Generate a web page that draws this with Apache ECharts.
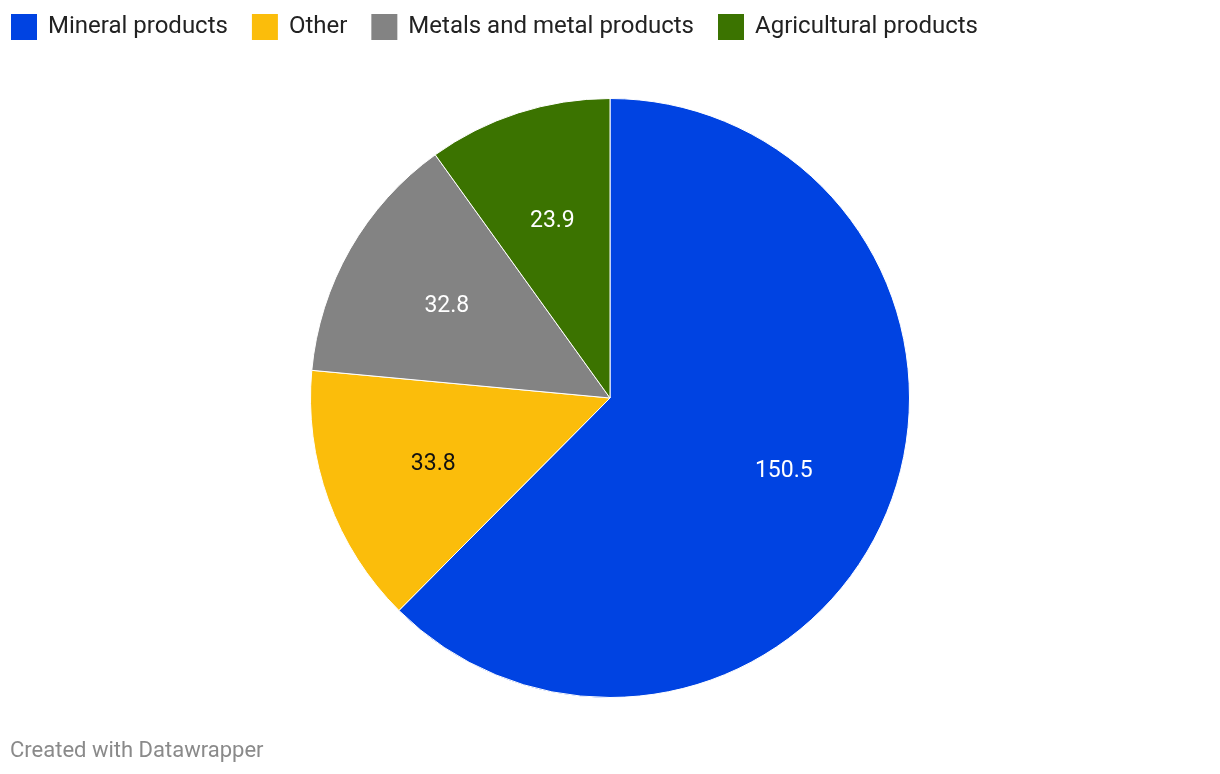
<!DOCTYPE html>
<html><head><meta charset="utf-8">
<script src="https://cdn.jsdelivr.net/npm/echarts@6/dist/echarts.min.js"></script>
<style>html,body{margin:0;padding:0;background:#fff}#c{width:1220px;height:774px}</style>
</head><body><div id="c"></div>
<script>
const categories = ['Mineral products', 'Other', 'Metals and metal products', 'Agricultural products'];
const values = [150.5, 33.8, 32.8, 23.9];
const colors = ['#0043e2', '#fbbd0b', '#838383', '#3b7300'];
const labelColors = ['#ffffff', '#111111', '#ffffff', '#ffffff'];

const chart = echarts.init(document.getElementById('c'));
const mainData = categories.map((n, i) => ({ name: n, value: values[i], itemStyle: { color: colors[i] } }));
const labelData = categories.map((n, i) => ({ name: n, value: values[i], label: { color: labelColors[i] } }));
chart.setOption({
  animation: false,
  legend: {
    left: 4, top: 7, itemWidth: 28, itemHeight: 28, itemGap: 22,
    icon: 'rect',
    textStyle: { fontFamily: 'Roboto', fontSize: 24, lineHeight: 28, color: '#222', padding: [0, 0, 0, 5] },
    data: categories
  },
  graphic: [{ type: 'text', left: 10, top: 740, style: { text: 'Created with Datawrapper', font: '22px Roboto', fill: '#8a8a8a' } }],
  series: [
    {
      type: 'pie', center: [610, 398], radius: [0, 299.5], startAngle: 90, clockwise: true,
      label: { show: false }, labelLine: { show: false },
      itemStyle: { borderColor: '#fff', borderWidth: 1 },
      emphasis: { disabled: true },
      data: mainData
    },
    {
      type: 'pie', center: [610, 400], radius: [0, 370], startAngle: 90, clockwise: true, silent: true,
      legendHoverLink: false,
      itemStyle: { color: 'rgba(0,0,0,0)', borderWidth: 0 },
      label: { show: true, position: 'inside', fontFamily: 'Roboto', fontSize: 23, formatter: p => p.value.toFixed(1) },
      labelLine: { show: false },
      emphasis: { disabled: true },
      data: labelData
    }
  ]
});
</script></body></html>
